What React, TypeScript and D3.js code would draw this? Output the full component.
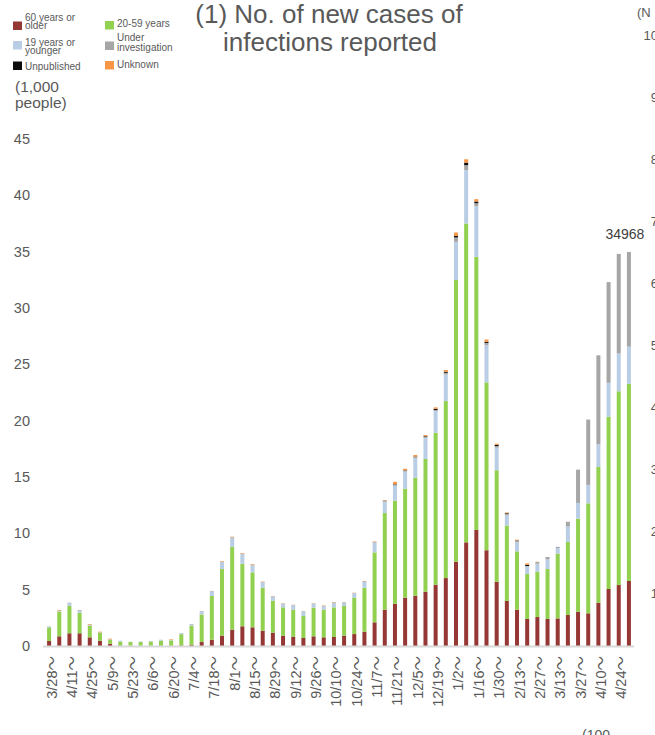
import React from "react";
import * as d3 from "d3";

const dates = ["3/28","4/4","4/11","4/18","4/25","5/2","5/9","5/16","5/23","5/30","6/6","6/13","6/20","6/27","7/4","7/11","7/18","7/25","8/1","8/8","8/15","8/22","8/29","9/5","9/12","9/19","9/26","10/3","10/10","10/17","10/24","10/31","11/7","11/14","11/21","11/28","12/5","12/12","12/19","12/26","1/2","1/9","1/16","1/23","1/30","2/6","2/13","2/20","2/27","3/6","3/13","3/20","3/27","4/3","4/10","4/17","4/24","5/1"];

const age60 = [0.45,0.86,1.13,1.13,0.77,0.47,0.2,0.03,0.02,0.02,0.02,0.03,0.03,0.05,0.1,0.35,0.56,0.92,1.45,1.75,1.66,1.36,1.18,0.92,0.83,0.71,0.86,0.77,0.8,0.92,1.06,1.27,2.1,3.22,3.75,4.29,4.46,4.82,5.44,6.03,7.48,9.2,10.3,8.5,5.7,4.0,3.22,2.4,2.57,2.4,2.45,2.75,3.04,2.9,3.84,5.06,5.41,5.77];
const age20to59 = [1.2,2.19,2.45,1.82,1.03,0.71,0.33,0.35,0.33,0.33,0.36,0.44,0.47,1.0,1.7,2.45,3.88,5.91,7.35,5.55,4.88,3.81,2.84,2.51,2.39,1.95,2.54,2.45,2.63,2.63,3.23,3.9,6.21,8.58,9.15,9.67,10.47,11.78,13.49,15.71,25.0,28.3,24.24,14.9,9.9,6.7,5.18,4.0,4.03,4.43,5.75,6.5,8.26,9.76,12.06,15.29,17.2,17.5];
const age19 = [0.1,0.05,0.21,0.15,0.05,0.03,0.05,0.09,0.03,0.05,0.07,0.06,0.05,0.1,0.1,0.25,0.4,0.6,0.8,0.83,0.62,0.48,0.36,0.32,0.39,0.38,0.35,0.3,0.39,0.29,0.38,0.51,0.86,1.0,1.32,1.51,1.75,1.88,1.92,2.36,3.39,4.74,4.5,3.3,2.0,0.9,0.8,0.65,0.7,0.87,0.5,1.35,1.4,1.64,2.0,3.01,3.35,3.3];
const underInvestigation = [0,0.05,0.05,0.07,0.05,0,0,0,0,0,0,0.02,0,0,0.05,0.05,0.05,0.05,0.05,0.07,0.06,0.04,0.04,0.03,0.03,0.04,0.03,0.05,0.05,0.04,0.04,0.06,0.07,0.08,0.12,0.1,0.1,0.1,0.1,0.15,0.39,0.44,0.26,0.2,0.15,0.15,0.15,0.05,0.15,0.2,0.1,0.43,2.95,5.8,7.9,8.94,8.84,8.398];
const unpublished = [0,0,0,0,0,0,0,0,0,0,0,0,0,0,0,0,0,0,0,0,0,0,0,0,0,0,0,0,0,0,0,0,0,0.02,0.03,0.03,0.03,0.05,0.1,0.1,0.14,0.22,0.15,0.1,0.1,0.05,0.03,0.1,0,0,0,0,0,0,0,0,0,0];
const unknown = [0,0.05,0,0,0.05,0.06,0.07,0,0,0,0,0,0.05,0,0,0,0,0.05,0.05,0.05,0.05,0.03,0.02,0.02,0.02,0.02,0.02,0.03,0.03,0.02,0.02,0.03,0.04,0.05,0.2,0.13,0.14,0.09,0.13,0.15,0.3,0.3,0.21,0.2,0.1,0.05,0.05,0.13,0.03,0,0,0,0,0,0,0,0,0];

const yTicks = [0,5,10,15,20,25,30,35,40,45];
const rightTicks = ["10","9","8","7","6","5","4","3","2","1"];

const seriesKeys = ["age60","age20to59","age19","underInvestigation","unpublished","unknown"];
const seriesColors: Record<string,string> = {
  age60: "#953735",
  age20to59: "#92D050",
  age19: "#B9CDE5",
  underInvestigation: "#A6A6A6",
  unpublished: "#0D0D0D",
  unknown: "#F79646",
};

const FONT = "'Liberation Sans', Arial, 'Noto Sans CJK JP', sans-serif";
const GREY = "#595959";

export default function App() {
  const W = 655, H = 735;
  const table = dates.map((d, i) => ({
    date: d,
    age60: age60[i],
    age20to59: age20to59[i],
    age19: age19[i],
    underInvestigation: underInvestigation[i],
    unpublished: unpublished[i],
    unknown: unknown[i],
  }));
  const stacked = d3.stack<any>().keys(seriesKeys)(table);
  const x = d3.scalePoint<string>().domain(dates).range([44, 634]).padding(0.5);
  const y = d3.scaleLinear().domain([0, 45]).range([646, 139]);
  const barW = 4;

  const lastIdx = dates.length - 1;
  const lastTotal = seriesKeys.reduce((s, k) => s + (table[lastIdx] as any)[k], 0);

  const legendItems = [
    { key: "age60", sx: 13, sy: 21.5, lines: ["60 years or", "older"], ty: [20.5, 29] },
    { key: "age19", sx: 13, sy: 41, lines: ["19 years or", "younger"], ty: [45.5, 53.5] },
    { key: "unpublished", sx: 13, sy: 61.5, lines: ["Unpublished"], ty: [69.5] },
    { key: "age20to59", sx: 105, sy: 21, lines: ["20-59 years"], ty: [27] },
    { key: "underInvestigation", sx: 105, sy: 41.5, lines: ["Under", "investigation"], ty: [40.7, 50.5] },
    { key: "unknown", sx: 105, sy: 61, lines: ["Unknown"], ty: [67.5] },
  ];

  return (
    <svg width={W} height={H} style={{ position: "absolute", left: 0, top: 0, background: "#fff" }} fontFamily={FONT}>
      <rect x={0} y={0} width={W} height={H} fill="#fff" />
      {/* Title */}
      <text x={329} y={23} textAnchor="middle" fontSize={26} fill={GREY}>(1) No. of new cases of</text>
      <text x={330} y={51} textAnchor="middle" fontSize={26} fill={GREY}>infections reported</text>

      {/* Legend */}
      {legendItems.map((it) => (
        <g key={it.key}>
          <rect x={it.sx} y={it.sy} width={9} height={8.5} fill={seriesColors[it.key]} />
          {it.lines.map((ln, j) => (
            <text key={j} x={it.sx + 12} y={it.ty[j]} fontSize={10} fill={GREY}>{ln}</text>
          ))}
        </g>
      ))}

      {/* Unit */}
      <text x={15} y={92} fontSize={15.5} fill={GREY}>(1,000</text>
      <text x={15} y={108} fontSize={15.5} fill={GREY}>people)</text>

      {/* Y ticks */}
      {yTicks.map((t) => (
        <text key={t} x={30} y={y(t)} dy="0.35em" textAnchor="end" fontSize={14.5} fill={GREY}>{t}</text>
      ))}

      {/* Bars */}
      {stacked.map((s) => (
        <g key={s.key} fill={seriesColors[s.key]}>
          {s.map((d, i) => {
            const h = y(d[0]) - y(d[1]);
            if (h <= 0) return null;
            return <rect key={i} x={(x(dates[i]) as number) - barW / 2} y={y(d[1])} width={barW} height={h} />;
          })}
        </g>
      ))}

      {/* Axis line */}
      <line x1={43} x2={634} y1={646.5} y2={646.5} stroke="#D9D9D9" strokeWidth={2} />

      {/* X labels */}
      {dates.map((d, i) =>
        i % 2 === 0 ? (
          <text key={d} transform={`translate(${(x(d) as number) + 7.5},656) rotate(-90)`} textAnchor="end" fontSize={14.5} fill={GREY}>
            {d + "～"}
          </text>
        ) : null
      )}

      {/* Last value label */}
      <text x={(x(dates[lastIdx]) as number) - 4} y={y(lastTotal) - 13} textAnchor="middle" fontSize={14} fill="#404040">
        {d3.format("d")(Math.round(lastTotal * 1000))}
      </text>

      {/* Partial neighbouring chart */}
      <text x={637} y={17} fontSize={13} fill={GREY}>(N</text>
      {rightTicks.map((t, i) => (
        <text key={t} x={658} y={35 + i * 62} dy="0.35em" textAnchor="end" fontSize={13} fill={GREY}>{t}</text>
      ))}
      <text x={582} y={740} fontSize={14} fill={GREY}>(100</text>
    </svg>
  );
}
